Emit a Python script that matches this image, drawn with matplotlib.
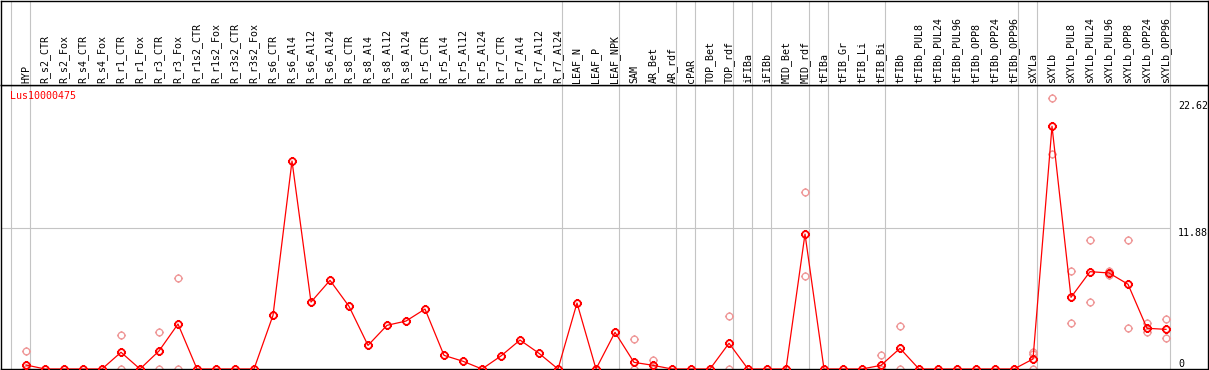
import numpy as np
import matplotlib
matplotlib.use("Agg")
from matplotlib import pyplot as plt
from matplotlib.path import Path

# data
gene = "Lus10000475"

samples = ["HYP",
           "R_s2_CTR", "R_s2_Fox", "R_s4_CTR", "R_s4_Fox", "R_r1_CTR", "R_r1_Fox",
           "R_r3_CTR", "R_r3_Fox", "R_r1s2_CTR", "R_r1s2_Fox", "R_r3s2_CTR", "R_r3s2_Fox",
           "R_s6_CTR", "R_s6_Al4", "R_s6_Al12", "R_s6_Al24",
           "R_s8_CTR", "R_s8_Al4", "R_s8_Al12", "R_s8_Al24",
           "R_r5_CTR", "R_r5_Al4", "R_r5_Al12", "R_r5_Al24",
           "R_r7_CTR", "R_r7_Al4", "R_r7_Al12", "R_r7_Al24",
           "LEAF_N", "LEAF_P", "LEAF_NPK",
           "SAM", "AR_Bet", "AR_rdf", "cPAR", "TOP_Bet", "TOP_rdf",
           "iFIBa", "iFIBb", "MID_Bet", "MID_rdf",
           "tFIBa", "tFIB_Gr", "tFIB_Li", "tFIB_Bi",
           "tFIBb", "tFIBb_PUL8", "tFIBb_PUL24", "tFIBb_PUL96",
           "tFIBb_OPP8", "tFIBb_OPP24", "tFIBb_OPP96",
           "sXYLa", "sXYLb", "sXYLb_PUL8", "sXYLb_PUL24", "sXYLb_PUL96",
           "sXYLb_OPP8", "sXYLb_OPP24", "sXYLb_OPP96"]

mean_vals = [0.34,
             0, 0, 0, 0, 1.41, 0, 1.52, 3.79, 0, 0, 0, 0,
             4.52, 17.52, 5.64, 7.47,
             5.28, 1.99, 3.68, 4.04,
             5.05, 1.15, 0.65, 0,
             1.10, 2.44, 1.32, 0,
             5.56, 0, 3.09,
             0.56, 0.31, 0, 0, 0, 2.17,
             0, 0, 0, 11.37,
             0, 0, 0, 0.31,
             1.74, 0, 0, 0, 0, 0, 0,
             0.84, 20.45, 6.04, 8.20, 8.09, 7.14, 3.43, 3.34]

# single replicates (only where they show apart from the mean)
rep_idx = [0, 5, 7, 8, 32, 33, 37, 41, 45, 46, 53, 54, 55, 56, 57, 58, 59, 60]
rep_hi = [1.52, 2.84, 3.09, 7.64, 2.50, 0.76, 4.44, 14.89, 1.15, 3.60,
          1.46, 22.8, 8.23, 10.84, 8.26, 10.84, 3.88, 4.21]
rep_lo = [0, 0, 0, 0, 0, 0, 0, 7.83, 0, 0,
          0, 18.09, 3.85, 5.62, 7.92, 3.43, 3.09, 2.59]
rep3_idx = [53]
rep3 = [1.24]

# index of last sample in each group (separator drawn just after it)
group_ends = [-1, 0, 28, 31, 34, 35, 37, 38, 39, 41, 42, 45, 52, 53, 60]
y_ticks = [0, 11.88, 22.62]

W, H = 1209, 370
PX0, STEP = 26, 19          # pixel x of first sample, spacing
YSCALE = 11.87              # pixels per unit
SEP = 0.235

fig = plt.figure(figsize=(W / 100, H / 100), dpi=100)
ax = fig.add_axes([1 / W, 1 / H, 1207 / W, 284 / H])
hx = fig.add_axes([1 / W, 285 / H, 1207 / W, 84.5 / H])

xlim = ((1 - PX0) / STEP, (1208 - PX0) / STEP)
for a in (ax, hx):
    a.set_xlim(*xlim)
    a.set_xticks([])
    a.set_yticks([])
    for s in a.spines.values():
        s.set_color("black")
        s.set_linewidth(1.0)
    for b in group_ends:
        a.axvline(b + SEP, color="#c4c4c4", lw=0.8, zorder=0)
ax.set_ylim(0, 284 / YSCALE)
hx.set_ylim(0, 84.5)

mono = "DejaVu Sans Mono"
fs = 7.2

# header labels
x = np.arange(len(samples))
for i, name in enumerate(samples):
    hx.text(i, 1.6, name, rotation=90, ha="center", va="bottom",
            fontsize=fs, family=mono, color="black")

# middle grid line
ax.hlines(y_ticks[1], xlim[0], group_ends[-1] + SEP, color="#c4c4c4", lw=0.8, zorder=0)

# circle marker with little ticks
ticks = Path([(0, 1), (0, 1.35), (0, -1), (0, -1.35), (1, 0), (1.35, 0), (-1, 0), (-1.35, 0)],
             [Path.MOVETO, Path.LINETO] * 4)
ring = Path.make_compound_path(Path.unit_circle(), ticks)

pink = "#ef9a9a"
ax.plot(rep_idx, rep_hi, ls="none", marker=ring, ms=6.5, mfc="none", mec=pink, mew=1.0, zorder=2)
ax.plot(rep_idx, rep_lo, ls="none", marker=ring, ms=6.5, mfc="none", mec=pink, mew=1.0, zorder=2)
ax.plot(rep3_idx, rep3, ls="none", marker=ring, ms=6.5, mfc="none", mec=pink, mew=1.0, zorder=2)
ax.plot(x, mean_vals, color="red", lw=0.9, marker=ring, ms=6.5, mfc="none",
        mec="red", mew=1.3, zorder=3)

# right-hand value labels
lx = (1178 - PX0) / STEP
for v in y_ticks:
    ax.text(lx, v, f"{v:g}", ha="left", va="bottom" if v == 0 else "top",
            fontsize=fs, family=mono, color="black", clip_on=False)

fig.text(10 / W, 1 - 91 / H, gene, ha="left", va="top", fontsize=fs,
         family=mono, color="red")

fig.savefig("out.png", dpi=100)
